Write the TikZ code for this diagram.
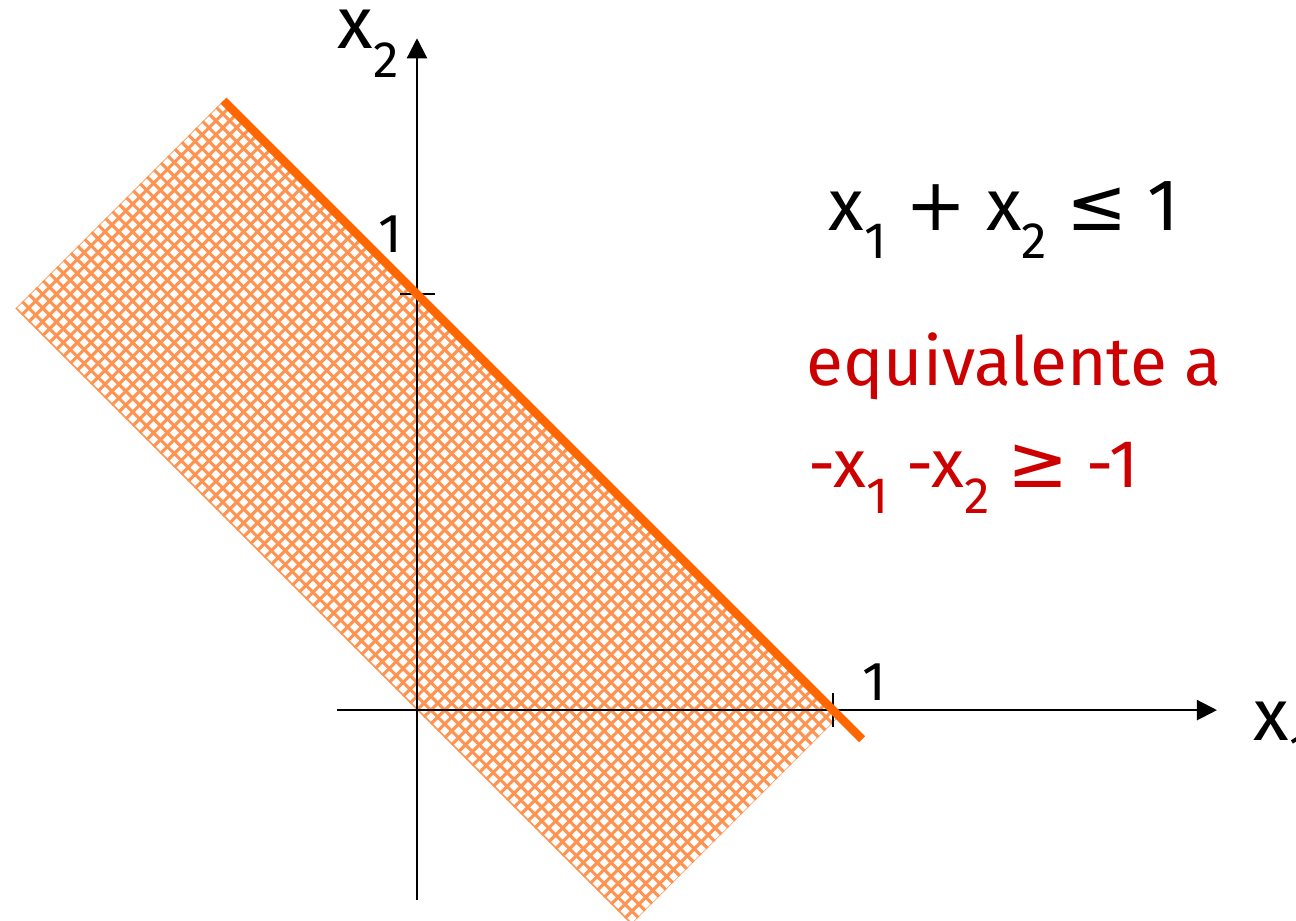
\documentclass[tikz,border=0pt]{standalone}
\usepackage{fontspec}
\setmainfont{Fira Sans}
\newfontfamily\symf{DejaVu Sans}
\usetikzlibrary{arrows.meta}
\definecolor{bound}{HTML}{FF6600}
\definecolor{hatchc}{HTML}{FF9452}
\definecolor{alt}{HTML}{CC0000}
\newcommand{\sbx}[1]{\raisebox{-0.75ex}{\fontsize{14}{16}\selectfont #1}}
\newcommand{\rel}[1]{{\symf\fontsize{20}{22}\selectfont #1}}
\tikzset{
  >={Triangle[length=5.5pt,width=5.5pt]},
  axis/.style={->, draw=black, line width=0.6pt},
  tick/.style={draw=black, line width=0.5pt},
  hatch/.style={draw=hatchc, line width=0.85pt},
  border/.style={draw=bound, line width=2.3pt},
  lbl/.style={anchor=base west, inner sep=0pt, font=\fontsize{20}{24}\selectfont},
  note/.style={lbl, text=alt, font=\fontsize{18.5}{22}\selectfont},
  num/.style={anchor=base west, inner sep=0pt, font=\fontsize{15}{18}\selectfont},
}

\begin{document}
\begin{tikzpicture}[x=4cm,y=4cm]
\useasboundingbox (-1.0024,-0.505) rectangle (2.113,1.707);

% feasible band x1+x2<=1, x1+x2>=0
\begin{scope}
  \clip (-0.465,1.465) -- (-0.965,0.965) -- (0.515,-0.515) -- (1.015,-0.015) -- cycle;
  \foreach \k in {0,...,30}
    \draw[hatch] ({(\k/30-1.95)/2},{(\k/30+1.95)/2}) -- ({(\k/30+1.05)/2},{(\k/30-1.05)/2});
  \foreach \k in {-58,...,32}
    \draw[hatch] ({\k/60},{-\k/60}) -- ({\k/60+0.5},{0.5-\k/60});
\end{scope}

% axes
\coordinate (xs) at (-0.192,0);
\coordinate (xe) at (1.923,0);
\coordinate (ys) at (0,-0.457);
\coordinate (ye) at (0,1.615);
\draw[axis] (xs) -- (xe);
\draw[axis] (ys) -- (ye);

% ticks
\coordinate (t1) at (0,1);
\coordinate (t2) at (1,0);
\draw[tick] (t1) ++(-0.041,0) -- ++(0.084,0);
\draw[tick] (t2) ++(0,-0.04) -- ++(0,0.08);

% boundary x1+x2=1
\coordinate (ba) at (-0.465,1.465);
\coordinate (bb) at (1.07,-0.07);
\draw[border] (ba) -- (bb);

% labels
\node[lbl] (lx2) at (-0.192,1.59) {x\sbx{2}};
\node[lbl] (lx1) at (2.01,-0.072) {x\sbx{1}};
\node[num] (one2) at (-0.094,1.101) {1};
\node[num] (one1) at (1.07,0.024) {1};
\node[lbl] (ineq) at (0.988,1.154) {x\sbx{1} \rel{+} x\sbx{2} \rel{≤} 1};
\node[note] (equiv) at (0.935,0.781) {equivalente a};
\node[note] (neg) at (0.94,0.536) {-x\sbx{1} -x\sbx{2} \rel{≥} -1};
\end{tikzpicture}
\end{document}
